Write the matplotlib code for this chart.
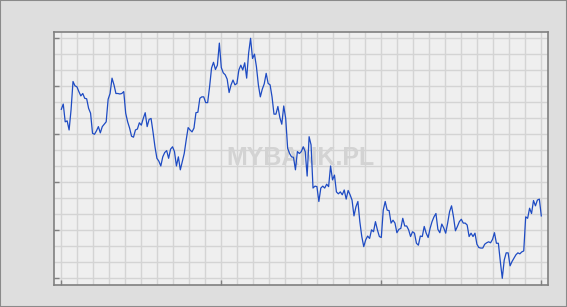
import numpy as np
import matplotlib
matplotlib.use("Agg")
import matplotlib.pyplot as plt
from matplotlib.patches import Rectangle
from matplotlib.ticker import FixedLocator, MultipleLocator, NullFormatter

# daily quotes (no axis labels are shown)
rates = [
    4.352, 4.363, 4.326, 4.328, 4.309, 4.351, 4.410, 4.401, 4.399, 4.389,
    4.380, 4.385, 4.375, 4.374, 4.354, 4.344, 4.302, 4.300, 4.307, 4.316,
    4.303, 4.316, 4.321, 4.326, 4.373, 4.385, 4.417, 4.403, 4.385, 4.385,
    4.384, 4.385, 4.389, 4.344, 4.326, 4.313, 4.296, 4.294, 4.309, 4.311,
    4.324, 4.319, 4.333, 4.345, 4.316, 4.331, 4.333, 4.305, 4.274, 4.250,
    4.244, 4.234, 4.253, 4.262, 4.266, 4.250, 4.269, 4.274, 4.264, 4.234,
    4.253, 4.226,
    4.243, 4.260, 4.288, 4.314, 4.309, 4.305, 4.313, 4.345, 4.346, 4.375,
    4.378, 4.378, 4.366, 4.366, 4.399, 4.438, 4.450, 4.435, 4.444, 4.490,
    4.439, 4.428, 4.424, 4.415, 4.387, 4.403, 4.413, 4.403, 4.406, 4.434,
    4.444, 4.434, 4.449, 4.417, 4.469, 4.500, 4.458, 4.467, 4.441, 4.403,
    4.378, 4.394, 4.405, 4.427, 4.406, 4.403, 4.378, 4.342, 4.342, 4.358,
    4.335, 4.321, 4.359, 4.333, 4.271, 4.260, 4.253, 4.252,
    4.226, 4.264, 4.260, 4.264, 4.274, 4.264, 4.213, 4.295, 4.278, 4.188,
    4.192, 4.191, 4.160, 4.188, 4.192, 4.188, 4.196, 4.191, 4.234, 4.205,
    4.215, 4.180, 4.176, 4.180, 4.174, 4.184, 4.165, 4.183, 4.174, 4.163,
    4.130, 4.149, 4.160, 4.118, 4.087, 4.066, 4.080, 4.088, 4.083, 4.101,
    4.097, 4.118, 4.101, 4.087, 4.085, 4.142, 4.160, 4.142, 4.141, 4.115,
    4.121, 4.115, 4.095, 4.102, 4.104, 4.125, 4.109, 4.109, 4.101, 4.087,
    4.097, 4.094, 4.073, 4.069, 4.088,
    4.087, 4.108, 4.094, 4.085, 4.104, 4.118, 4.128, 4.135, 4.102, 4.095,
    4.113, 4.105, 4.094, 4.115, 4.139, 4.151, 4.128, 4.099, 4.108, 4.118,
    4.123, 4.115, 4.115, 4.111, 4.087, 4.094, 4.087, 4.094, 4.071, 4.064,
    4.063, 4.063, 4.071, 4.074, 4.076, 4.074, 4.081, 4.095, 4.073, 4.073,
    4.035, 4.000, 4.038, 4.053, 4.053, 4.026, 4.035, 4.042, 4.049, 4.053,
    4.051, 4.055, 4.057, 4.128, 4.125, 4.146, 4.135, 4.162, 4.151, 4.163,
    4.165, 4.130,
]
y_ticks = [4.0, 4.1, 4.2, 4.3, 4.4, 4.5]
watermark = "MYBANK.PL"

days = np.arange(len(rates))
last = days[-1]

fig = plt.figure(figsize=(5.67, 3.07), dpi=100, facecolor="#dedede")
fig.patches.append(Rectangle((0, 0), 1, 1, transform=fig.transFigure,
                             fill=False, edgecolor="#8a8a8a", linewidth=1.5))

ax = fig.add_axes([54 / 567, 22 / 307, 494 / 567, 253.3 / 307])
ax.set_facecolor("#efefef")

ax.plot(days, rates, color="#1e4bc3", linewidth=0.9, zorder=3)

ax.text(0.5, 0.5, watermark, transform=ax.transAxes, ha="center", va="center",
        fontsize=18, fontweight="bold", family=["Liberation Sans", "DejaVu Sans"],
        color="#d3d3d3", zorder=2)

# x range: first and last quote sit a few pixels inside the frame
px = last / 480
ax.set_xlim(-7.3 * px, last + 6.7 * px)
ax.set_ylim(y_ticks[0] - 6.7 / 480, y_ticks[0] + 246.6 / 480)

ax.xaxis.set_major_locator(FixedLocator(np.linspace(0, last, 4)))
ax.xaxis.set_minor_locator(FixedLocator(np.linspace(0, last, 31)))
ax.yaxis.set_major_locator(FixedLocator(y_ticks))
ax.yaxis.set_minor_locator(MultipleLocator(0.1 / 3))
ax.xaxis.set_major_formatter(NullFormatter())
ax.yaxis.set_major_formatter(NullFormatter())

ax.tick_params(which="major", direction="in", length=3.5, width=1.0, color="#808080")
ax.tick_params(which="minor", length=0)
ax.grid(which="both", color="#d4d4d4", linewidth=1.0, zorder=0)
ax.set_axisbelow(True)

for side in ax.spines.values():
    side.set_color("#808080")
    side.set_linewidth(1.2)

fig.savefig("out.png", dpi=100, facecolor=fig.get_facecolor())
